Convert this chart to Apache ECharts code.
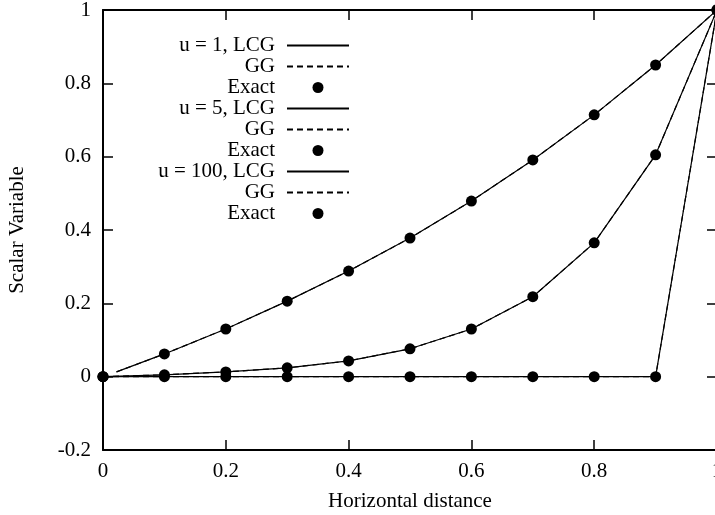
<!DOCTYPE html>
<html>
<head>
<meta charset="utf-8">
<script src="https://cdn.jsdelivr.net/npm/echarts@6/dist/echarts.min.js"></script>
<style>
  html, body { margin: 0; padding: 0; background: #ffffff; }
  #chart { width: 715px; height: 515px; }
</style>
</head>
<body>
<div id="chart"></div>
<script>
// Grid nodes along the horizontal distance
const xNodes = [0, 0.1, 0.2, 0.3, 0.4, 0.5, 0.6, 0.7, 0.8, 0.9, 1];
// u = 1 discrete solutions start just off the left boundary
const xNodesU1 = [0.022, 0.1, 0.2, 0.3, 0.4, 0.5, 0.6, 0.7, 0.8, 0.9, 1];

// Exact solutions at the nodes
const exactU1   = [0, 0.062, 0.130, 0.206, 0.288, 0.378, 0.479, 0.591, 0.714, 0.850, 1];
const exactU5   = [0, 0.005, 0.013, 0.024, 0.043, 0.076, 0.130, 0.218, 0.365, 0.605, 1];
const exactU100 = [0, 0, 0, 0, 0, 0, 0, 0, 0, 0, 1];

// Discrete solutions (LCG and GG schemes)
const lcgU1   = [0.013, 0.062, 0.130, 0.206, 0.288, 0.378, 0.479, 0.591, 0.714, 0.850, 1];
const ggU1    = [0.013, 0.062, 0.130, 0.206, 0.288, 0.378, 0.479, 0.591, 0.714, 0.850, 1];
const lcgU5   = [0, 0.005, 0.013, 0.024, 0.043, 0.076, 0.130, 0.218, 0.365, 0.605, 1];
const ggU5    = [0, 0.005, 0.013, 0.024, 0.043, 0.076, 0.130, 0.218, 0.365, 0.605, 1];
const lcgU100 = [0, 0, 0, 0, 0, 0, 0, 0, 0, 0, 1];
const ggU100  = [0, 0, 0, 0, 0, 0, 0, 0, 0, 0, 1];

// Legend labels, in series order
const legendLabels = ['u = 1, LCG', 'GG', 'Exact', 'u = 5, LCG', 'GG', 'Exact', 'u = 100, LCG', 'GG', 'Exact'];
const seriesKeys = ['s0', 's1', 's2', 's3', 's4', 's5', 's6', 's7', 's8'];

// Axis ticks
const xTicks = { min: 0, max: 1, interval: 0.2 };
const yTicks = { min: -0.2, max: 1, interval: 0.2 };

const FONT = 'Liberation Serif';
const INK = '#000000';

function zip(xs, ys) { return xs.map((x, i) => [x, ys[i]]); }

function lineSeries(key, xs, ys, dashed) {
  return {
    name: key,
    type: 'line',
    data: zip(xs, ys),
    symbol: 'none',
    silent: true,
    animation: false,
    itemStyle: { color: 'rgba(0,0,0,0)' },
    lineStyle: { color: INK, width: 1.2, opacity: 1, type: dashed ? [6, 4] : 'solid' },
    z: 2
  };
}

function dotSeries(key, xs, ys) {
  return {
    name: key,
    type: 'scatter',
    data: zip(xs, ys),
    symbol: 'circle',
    symbolSize: 11,
    clip: false,
    silent: true,
    animation: false,
    itemStyle: { color: INK, opacity: 1 },
    z: 3
  };
}

const chart = echarts.init(document.getElementById('chart'), null, { renderer: 'canvas' });

const axisText = { fontFamily: FONT, fontSize: 21, color: INK };
const tickStyle = { show: true, inside: true, length: 10, lineStyle: { color: INK, width: 1.5 } };
const borderLine = { show: true, onZero: false, lineStyle: { color: INK, width: 2 } };

chart.setOption({
  animation: false,
  backgroundColor: '#ffffff',
  grid: { left: 103, right: -2, top: 10, bottom: 65, containLabel: false, outerBoundsMode: 'none' },
  legend: {
    data: seriesKeys,
    formatter: name => legendLabels[seriesKeys.indexOf(name)],
    orient: 'vertical',
    align: 'right',
    right: 365,
    top: 35,
    padding: 0,
    itemGap: 0,
    itemWidth: 62,
    itemHeight: 11,
    selectedMode: false,
    itemStyle: { opacity: 1 },
    textStyle: { fontFamily: FONT, fontSize: 21, lineHeight: 21, color: INK, padding: [0, 7, 0, 0] }
  },
  xAxis: [
    {
      type: 'value',
      min: xTicks.min, max: xTicks.max, interval: xTicks.interval,
      position: 'bottom',
      name: 'Horizontal distance',
      nameLocation: 'middle',
      nameGap: 41,
      nameTextStyle: axisText,
      axisLine: borderLine,
      axisTick: tickStyle,
      axisLabel: Object.assign({ margin: 11 }, axisText),
      splitLine: { show: false }
    },
    {
      type: 'value',
      min: xTicks.min, max: xTicks.max, interval: xTicks.interval,
      position: 'top',
      axisLine: borderLine,
      axisTick: tickStyle,
      axisLabel: { show: false },
      splitLine: { show: false }
    }
  ],
  yAxis: [
    {
      type: 'value',
      min: yTicks.min, max: yTicks.max, interval: yTicks.interval,
      position: 'left',
      name: 'Scalar Variable',
      nameLocation: 'middle',
      nameGap: 75,
      nameTextStyle: axisText,
      axisLine: borderLine,
      axisTick: tickStyle,
      axisLabel: Object.assign({ margin: 12 }, axisText),
      splitLine: { show: false }
    },
    {
      type: 'value',
      min: yTicks.min, max: yTicks.max, interval: yTicks.interval,
      position: 'right',
      axisLine: borderLine,
      axisTick: tickStyle,
      axisLabel: { show: false },
      splitLine: { show: false }
    }
  ],
  series: [
    lineSeries('s0', xNodesU1, lcgU1, false),
    lineSeries('s1', xNodesU1, ggU1, true),
    dotSeries('s2', xNodes, exactU1),
    lineSeries('s3', xNodes, lcgU5, false),
    lineSeries('s4', xNodes, ggU5, true),
    dotSeries('s5', xNodes, exactU5),
    lineSeries('s6', xNodes, lcgU100, false),
    lineSeries('s7', xNodes, ggU100, true),
    dotSeries('s8', xNodes, exactU100)
  ]
});
</script>
</body>
</html>
